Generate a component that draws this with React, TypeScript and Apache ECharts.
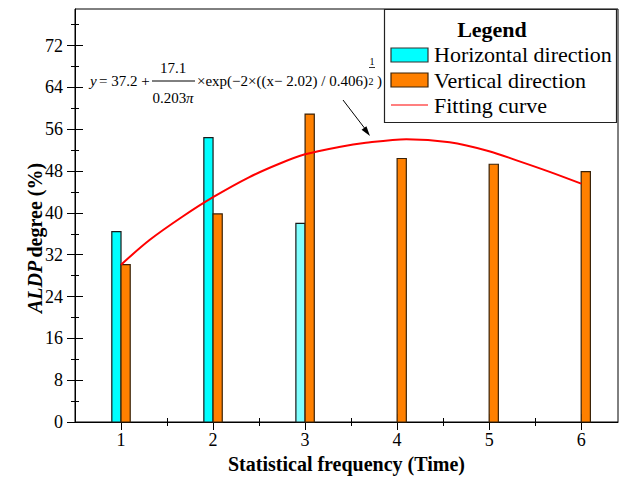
import React, { useEffect, useRef } from "react";
import * as echarts from "echarts";

const categories = [1, 2, 3, 4, 5, 6];
const horizontalX = [1, 2, 3];
const horizontalValues = [36.4, 54.4, 38.0];
const verticalValues = [30.1, 39.8, 58.9, 50.4, 49.3, 47.9];
const curveX = [1.0, 1.31, 1.67, 2.0, 2.39, 2.72, 3.0, 3.37, 3.66, 4.1, 4.57, 5.0, 5.29, 5.65, 6.0];
const curveY = [30.1, 34.8, 39.3, 43.0, 46.8, 49.4, 51.2, 52.6, 53.4, 54.1, 53.5, 51.8, 50.1, 47.9, 45.6];
const yMajorTicks = [0, 8, 16, 24, 32, 40, 48, 56, 64, 72];
const yMinorTicks = [4, 12, 20, 28, 36, 44, 52, 60, 68, 76];
const xMajorTicks = [1, 2, 3, 4, 5, 6];
const xMinorTicks = [1.5, 2.5, 3.5, 4.5, 5.5];

const FONT = "Liberation Serif";

const txt = (x: number, y: number, text: string, size: number, extra: any = {}, align = "left") => ({
  type: "text",
  x,
  y,
  z: 11,
  style: {
    text,
    fontFamily: FONT,
    fontSize: size,
    fill: "#000",
    align,
    verticalAlign: "middle",
    ...extra,
  },
});

export default function App() {
  const ref = useRef<HTMLDivElement>(null);
  useEffect(() => {
    if (!ref.current) return;
    const chart = echarts.init(ref.current, null, { renderer: "svg" });

    const xBase = { type: "value", min: 0.5, max: 6.4, interval: 0.5, gridIndex: 0, position: "bottom", splitLine: { show: false } };
    const yBase = { type: "value", min: 0, max: 79, interval: 8, gridIndex: 0, position: "left", splitLine: { show: false } };

    const tickOnly = (vals: number[], inside: boolean, len: number) => ({
      axisLine: { show: false },
      axisLabel: { show: false },
      axisTick: { show: true, inside, length: len, customValues: vals, lineStyle: { color: "#000", width: 1 } },
    });

    const barItem = (offset: number, lightIdx: number, fill: string, lightFill: string, stroke: string) =>
      (params: any, api: any) => {
        const x = api.value(0);
        const v = api.value(1);
        const pA = api.coord([x + offset, v]);
        const pB = api.coord([x + offset + 0.1, 0]);
        return {
          type: "rect",
          shape: { x: pA[0], y: pA[1], width: pB[0] - pA[0], height: pB[1] - pA[1] },
          style: { fill: params.dataIndex === lightIdx ? lightFill : fill, stroke, lineWidth: 1.2 },
        };
      };

    const option: any = {
      animation: false,
      backgroundColor: "#fff",
      textStyle: { fontFamily: FONT },
      grid: { left: 75, top: 9, width: 543, height: 413, show: true, borderColor: "#000", borderWidth: 1, backgroundColor: "transparent" },
      xAxis: [
        {
          ...xBase,
          axisLine: { show: true, lineStyle: { color: "#000", width: 1 } },
          axisTick: { show: true, inside: false, length: 8, customValues: xMajorTicks, lineStyle: { color: "#000" } },
          axisLabel: {
            show: true, customValues: xMajorTicks, margin: 9, color: "#000", fontSize: 18, fontFamily: FONT,
            formatter: (v: number) => (Number.isInteger(v) && v >= 1 && v <= 6 ? String(v) : ""),
          },
          name: "Statistical frequency (Time)",
          nameLocation: "middle",
          nameGap: 31,
          nameTextStyle: { fontSize: 20, fontWeight: "bold", color: "#000", fontFamily: FONT },
        },
        { ...xBase, ...tickOnly(xMajorTicks, true, 8) },
        { ...xBase, ...tickOnly(xMinorTicks, false, 4) },
        { ...xBase, ...tickOnly(xMinorTicks, true, 4) },
      ],
      yAxis: [
        {
          ...yBase,
          axisLine: { show: true, lineStyle: { color: "#000", width: 1 } },
          axisTick: { show: true, inside: false, length: 8, customValues: yMajorTicks, lineStyle: { color: "#000" } },
          axisLabel: {
            show: true, customValues: yMajorTicks, margin: 12, color: "#000", fontSize: 18, fontFamily: FONT,
            formatter: (v: number) => (v % 8 === 0 ? String(v) : ""),
          },
        },
        { ...yBase, ...tickOnly(yMajorTicks, true, 8) },
        { ...yBase, ...tickOnly(yMinorTicks, false, 4) },
        { ...yBase, ...tickOnly(yMinorTicks, true, 4) },
      ],
      series: [
        {
          name: "Horizontal direction",
          type: "custom",
          xAxisIndex: 0,
          yAxisIndex: 0,
          z: 2,
          renderItem: barItem(-0.1, 2, "#00FFFF", "#80FFFF", "#1a1a1a"),
          data: horizontalX.map((x, i) => [x, horizontalValues[i]]),
        },
        {
          name: "Vertical direction",
          type: "custom",
          xAxisIndex: 0,
          yAxisIndex: 0,
          z: 2,
          renderItem: barItem(0, -1, "#FF8000", "#FF8000", "#3a2208"),
          data: categories.map((x, i) => [x, verticalValues[i]]),
        },
        {
          name: "Fitting curve",
          type: "line",
          xAxisIndex: 0,
          yAxisIndex: 0,
          z: 5,
          smooth: 0.3,
          showSymbol: false,
          lineStyle: { color: "#FF0000", width: 2 },
          data: curveX.map((x, i) => [x, curveY[i]]),
        },
      ],
      graphic: [
        {
          type: "text",
          x: 35,
          y: 238,
          rotation: Math.PI / 2,
          style: {
            text: "{a|ALDP} {b|degree (%)}",
            align: "center",
            verticalAlign: "middle",
            rich: {
              a: { fontFamily: FONT, fontSize: 20, fontWeight: "bold", fontStyle: "italic", fill: "#000" },
              b: { fontFamily: FONT, fontSize: 20, fontWeight: "bold", fill: "#000" },
            },
          },
        },
        {
          type: "rect",
          shape: { x: 384.5, y: 9.5, width: 232, height: 113 },
          style: { fill: "#fff", stroke: "#222", lineWidth: 1.2 },
          z: 10,
        },
        txt(492, 29, "Legend", 22, { fontWeight: "bold" }, "center"),
        { type: "rect", z: 11, shape: { x: 391, y: 48, width: 37, height: 14 }, style: { fill: "#00FFFF", stroke: "#333", lineWidth: 1.2 } },
        txt(434, 54, "Horizontal direction", 22),
        { type: "rect", z: 11, shape: { x: 391, y: 73, width: 37, height: 14 }, style: { fill: "#FF8000", stroke: "#3a2208", lineWidth: 1.2 } },
        txt(434, 80, "Vertical direction", 22),
        { type: "line", z: 11, shape: { x1: 391, y1: 105, x2: 428, y2: 105 }, style: { stroke: "#FF0000", lineWidth: 1.2 } },
        txt(434, 105, "Fitting curve", 22),
        txt(90, 81, "y", 15, { fontStyle: "italic" }),
        txt(99, 81, "= 37.2 +", 15),
        txt(173, 68, "17.1", 15, {}, "center"),
        { type: "line", z: 6, shape: { x1: 152, y1: 81, x2: 195, y2: 81 }, style: { stroke: "#000", lineWidth: 1 } },
        {
          type: "text", x: 173, y: 98, z: 6,
          style: {
            text: "{n|0.203}{p|π}", align: "center", verticalAlign: "middle",
            rich: { n: { fontFamily: FONT, fontSize: 15, fill: "#000" }, p: { fontFamily: FONT, fontSize: 15, fontStyle: "italic", fill: "#000" } },
          },
        },
        txt(197, 81, "×exp(−2×((x− 2.02) / 0.406)", 15),
        txt(372, 61, "1", 10, {}, "center"),
        { type: "line", z: 6, shape: { x1: 369, y1: 67.5, x2: 375, y2: 67.5 }, style: { stroke: "#000", lineWidth: 0.8 } },
        txt(371, 81, "2", 10, {}, "center"),
        txt(377, 81, ")", 15),
        { type: "line", z: 6, shape: { x1: 343, y1: 100, x2: 366, y2: 130 }, style: { stroke: "#000", lineWidth: 1 } },
        { type: "polygon", z: 6, shape: { points: [[370, 136], [361.6, 129.8], [366.4, 126.2]] }, style: { fill: "#000" } },
      ],
    };

    chart.setOption(option);
    return () => chart.dispose();
  }, []);

  return <div ref={ref} style={{ position: "fixed", left: 0, top: 0, width: 622, height: 479 }} />;
}
